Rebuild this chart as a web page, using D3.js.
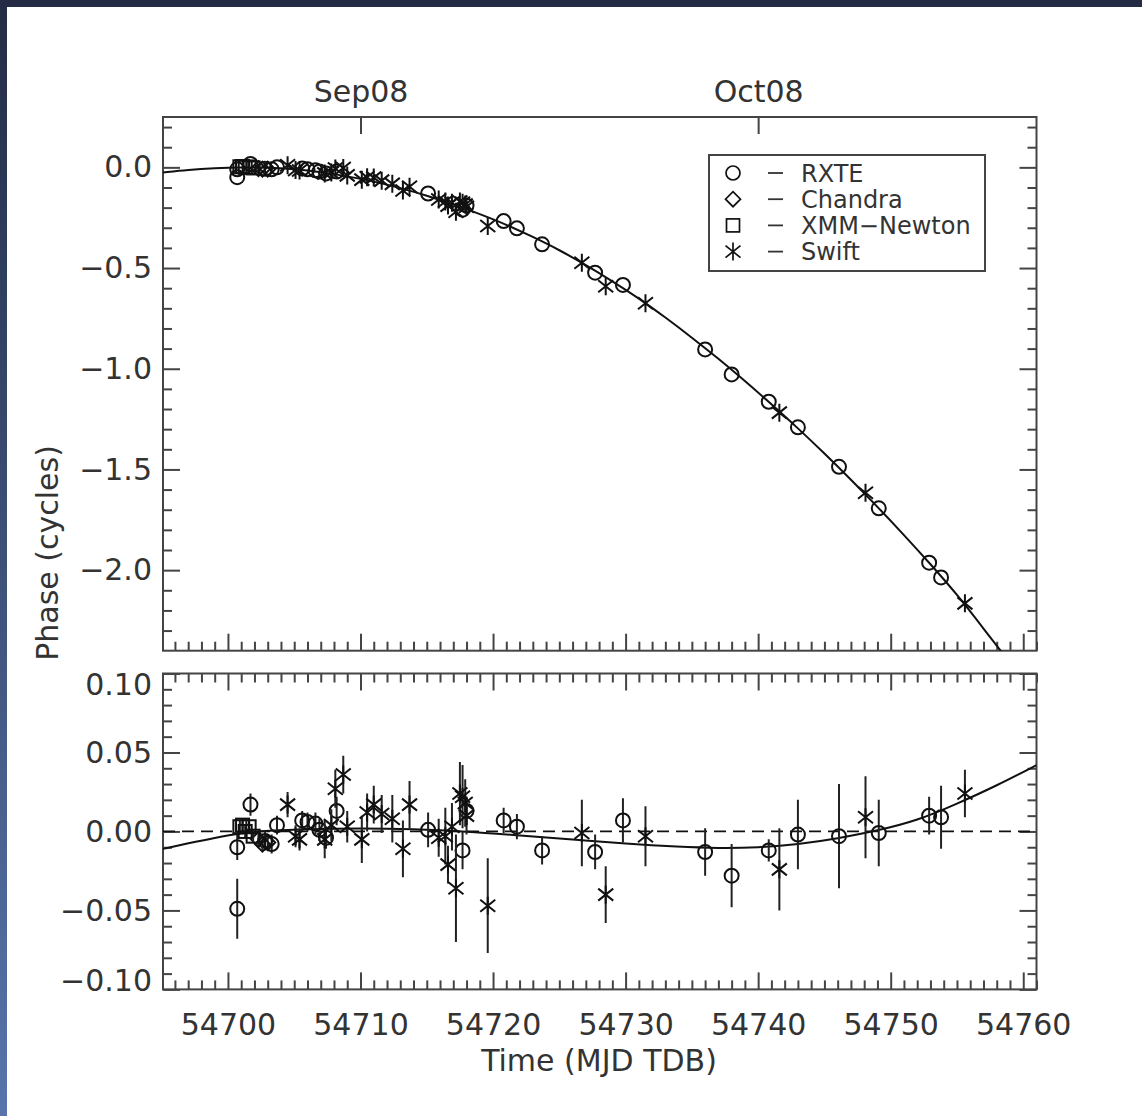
<!DOCTYPE html>
<html>
<head>
<meta charset="utf-8">
<script src="https://cdn.jsdelivr.net/npm/d3@7"></script>
<style>
  body { margin: 0; background: #fff; }
  text { font-family: "DejaVu Sans", sans-serif; fill: #333; }
</style>
</head>
<body>
<div id="chart"></div>
<script>
// observations: [MJD, phase (cycles), residual, residual error]
let rxte = [
    [54700.7, -0.049, -0.049, 0.019], [54700.7, -0.010, -0.010, 0.008],
    [54701.7, 0.017, 0.017, 0.007], [54702.8, -0.007, -0.006, 0.006],
    [54703.3, -0.010, -0.008, 0.006], [54703.7, 0.000, 0.004, 0.006],
    [54705.6, -0.006, 0.007, 0.006], [54706.0, -0.010, 0.006, 0.006],
    [54706.6, -0.015, 0.005, 0.007], [54706.9, -0.021, 0.001, 0.007],
    [54707.4, -0.030, -0.004, 0.007], [54708.2, -0.021, 0.013, 0.009],
    [54715.1, -0.130, 0.001, 0.011], [54717.7, -0.210, -0.012, 0.012],
    [54718.0, -0.190, 0.013, 0.009], [54720.8, -0.267, 0.007, 0.008],
    [54721.8, -0.303, 0.003, 0.008], [54723.7, -0.382, -0.012, 0.009],
    [54727.7, -0.523, -0.013, 0.011], [54729.8, -0.584, 0.007, 0.014],
    [54736.0, -0.904, -0.013, 0.015], [54738.0, -1.028, -0.028, 0.020],
    [54740.8, -1.164, -0.012, 0.007], [54743.0, -1.291, -0.002, 0.022],
    [54746.1, -1.487, -0.003, 0.033], [54749.1, -1.693, -0.001, 0.021],
    [54752.9, -1.963, 0.010, 0.012], [54753.8, -2.036, 0.009, 0.020]
];
let chandra = [
    [54702.3, -0.006, -0.005, 0.005], [54702.6, -0.009, -0.008, 0.005],
    [54703.0, -0.009, -0.007, 0.005]
];
let xmm = [
    [54700.9, 0.003, 0.003, 0.004], [54701.1, 0.004, 0.004, 0.004],
    [54701.3, 0.000, 0.000, 0.004], [54701.6, 0.002, 0.003, 0.004],
    [54701.9, -0.003, -0.003, 0.004]
];
let swift = [
    [54704.5, 0.010, 0.017, 0.008], [54705.1, -0.013, -0.003, 0.007],
    [54705.4, -0.016, -0.005, 0.007], [54707.3, -0.030, -0.005, 0.012],
    [54707.8, -0.026, 0.004, 0.010], [54708.1, -0.006, 0.027, 0.012],
    [54708.7, -0.003, 0.036, 0.012], [54709.0, -0.040, 0.003, 0.010],
    [54710.1, -0.061, -0.005, 0.015], [54710.5, -0.049, 0.012, 0.012],
    [54711.0, -0.051, 0.017, 0.012], [54711.6, -0.066, 0.011, 0.012],
    [54712.4, -0.082, 0.008, 0.015], [54713.2, -0.115, -0.011, 0.018],
    [54713.7, -0.096, 0.017, 0.015], [54715.9, -0.160, -0.004, 0.012],
    [54716.4, -0.170, -0.003, 0.018], [54716.6, -0.190, -0.021, 0.012],
    [54716.9, -0.176, 0.003, 0.015], [54717.2, -0.220, -0.036, 0.034],
    [54717.5, -0.170, 0.024, 0.020], [54717.7, -0.176, 0.022, 0.020],
    [54717.9, -0.185, 0.018, 0.015], [54718.0, -0.196, 0.010, 0.012],
    [54719.6, -0.291, -0.047, 0.030], [54726.7, -0.474, -0.001, 0.021],
    [54728.5, -0.590, -0.040, 0.018], [54731.5, -0.675, -0.003, 0.019],
    [54741.6, -1.218, -0.024, 0.026], [54748.1, -1.616, 0.009, 0.026],
    [54755.6, -2.165, 0.024, 0.015]
];

// timing model
let modelTime = [54695.1, 54697, 54699, 54701, 54703, 54705, 54707, 54709, 54711, 54713,
    54715, 54717, 54719, 54721, 54723, 54725, 54727, 54729, 54731, 54733, 54735, 54737,
    54739, 54741, 54743, 54745, 54747, 54749, 54751, 54753, 54755, 54757, 54759];
let modelPhase = [-0.025, -0.012, -0.004, 0.000, -0.001, -0.009, -0.023, -0.044, -0.070, -0.102,
    -0.140, -0.183, -0.232, -0.284, -0.345, -0.41, -0.485, -0.565, -0.65, -0.745, -0.845, -0.95,
    -1.06, -1.176, -1.295, -1.42, -1.55, -1.685, -1.825, -1.97, -2.12, -2.29, -2.46];
let residTime = [54695.1, 54697, 54699, 54701, 54703, 54706, 54710, 54714, 54718, 54722, 54726,
    54730, 54734, 54737, 54740, 54743, 54746, 54749, 54752, 54755, 54758, 54761];
let residModel = [-0.011, -0.0075, -0.004, -0.001, 0.0005, 0.0015, 0.002, 0.0015, 0.0, -0.0025, -0.005,
    -0.0078, -0.0098, -0.0106, -0.0102, -0.0082, -0.0045, 0.0005, 0.0068, 0.0175, 0.029, 0.042];

let monthMJD = [54710, 54740];
let monthLabels = ["Sep08", "Oct08"];
let legendNames = ["RXTE", "Chandra", "XMM\u2212Newton", "Swift"];

let W = 1142, H = 1116;
let left = 163, right = 1036.5;
let topY0 = 117, topY1 = 650.7, botY0 = 673.5, botY1 = 989.4;
let ink = "#444", markInk = "#111";

let svg = d3.select("#chart").append("svg")
    .attr("width", W)
    .attr("height", H);

// dark frame on top and left
let grad = svg.append("defs").append("linearGradient")
    .attr("id", "sidegrad").attr("x1", 0).attr("y1", 0).attr("x2", 0).attr("y2", 1);
grad.append("stop").attr("offset", "0%").attr("stop-color", "#232c44");
grad.append("stop").attr("offset", "100%").attr("stop-color", "#5775ab");
svg.append("rect").attr("x", 0).attr("y", 0).attr("width", 7).attr("height", H).attr("fill", "url(#sidegrad)");
svg.append("rect").attr("x", 0).attr("y", 0).attr("width", W).attr("height", 7).attr("fill", "#232c44");

let x = d3.scaleLinear().domain([54695.1, 54761.0]).range([left, right]);
let yTop = d3.scaleLinear().domain([-2.4, 0.25]).range([topY1, topY0]);
let yBot = d3.scaleLinear().domain([-0.1, 0.1]).range([botY1, botY0]);

let defs = svg.select("defs");
defs.append("clipPath").attr("id", "clipTop").append("rect")
    .attr("x", left).attr("y", topY0).attr("width", right - left).attr("height", topY1 - topY0);
defs.append("clipPath").attr("id", "clipBot").append("rect")
    .attr("x", left).attr("y", botY0).attr("width", right - left).attr("height", botY1 - botY0);

function styleAxis(g, size) {
    g.select(".domain").remove();
    g.selectAll(".tick line").attr("stroke", ink).attr("stroke-width", 2);
    g.selectAll(".tick text")
        .style("font-family", "'DejaVu Sans', sans-serif")
        .style("font-size", size + "px")
        .attr("fill", "#333");
}

let dayMinor = d3.range(54696, 54762).filter(d => d % 10 !== 0);
let dayMajor = [54700, 54710, 54720, 54730, 54740, 54750, 54760];

// negative tick sizes so every tick points into the panel
function xTicks(yPos, axisFn, labels) {
    let gMaj = svg.append("g").attr("transform", "translate(0," + yPos + ")")
        .call(axisFn(x).tickValues(dayMajor).tickSize(-17).tickPadding(24)
            .tickFormat(labels ? d3.format("d") : ""));
    styleAxis(gMaj, 30);
    let gMin = svg.append("g").attr("transform", "translate(0," + yPos + ")")
        .call(axisFn(x).tickValues(dayMinor).tickSize(-9).tickFormat(""));
    styleAxis(gMin, 30);
}

function yTicks(scale, major, minor, fmt) {
    let gL = svg.append("g").attr("transform", "translate(" + left + ",0)")
        .call(d3.axisLeft(scale).tickValues(major).tickSize(-17).tickPadding(11).tickFormat(fmt));
    styleAxis(gL, 30);
    svg.append("g").attr("transform", "translate(" + left + ",0)")
        .call(d3.axisLeft(scale).tickValues(minor).tickSize(-9).tickFormat(""))
        .call(g => styleAxis(g, 30));
    svg.append("g").attr("transform", "translate(" + right + ",0)")
        .call(d3.axisRight(scale).tickValues(major).tickSize(-17).tickFormat(""))
        .call(g => styleAxis(g, 30));
    svg.append("g").attr("transform", "translate(" + right + ",0)")
        .call(d3.axisRight(scale).tickValues(minor).tickSize(-9).tickFormat(""))
        .call(g => styleAxis(g, 30));
    return gL;
}

// ---- top panel axes
let topMajor = [0, -0.5, -1, -1.5, -2];
let topMinor = d3.range(-23, 3).map(d => d / 10).filter(d => Math.abs(d * 2 - Math.round(d * 2)) > 1e-6);
yTicks(yTop, topMajor, topMinor, d3.format(".1f"));
xTicks(topY1, d3.axisBottom, false);

let gMonth = svg.append("g").attr("transform", "translate(0," + topY0 + ")")
    .call(d3.axisTop(x).tickValues(monthMJD).tickSize(-17).tickPadding(15)
        .tickFormat((d, i) => monthLabels[i]));
styleAxis(gMonth, 30);

svg.append("rect").attr("x", left).attr("y", topY0)
    .attr("width", right - left).attr("height", topY1 - topY0)
    .attr("fill", "none").attr("stroke", ink).attr("stroke-width", 2);

// ---- bottom panel axes
let botMajor = [0.1, 0.05, 0, -0.05, -0.1];
let botMinor = d3.range(-9, 10).map(d => d / 100).filter(d => Math.round(d * 100) % 5 !== 0);
let gBotL = yTicks(yBot, botMajor, botMinor, d3.format(".2f"));
// edge labels sit inside the panel, as in the original
gBotL.selectAll(".tick text").attr("transform", d => d === 0.1 ? "translate(0,11)" : d === -0.1 ? "translate(0,-9)" : null);
xTicks(botY0, d3.axisTop, false);
xTicks(botY1, d3.axisBottom, true);

svg.append("rect").attr("x", left).attr("y", botY0)
    .attr("width", right - left).attr("height", botY1 - botY0)
    .attr("fill", "none").attr("stroke", ink).attr("stroke-width", 2);

// ---- markers
function drawMark(sel, kind) {
    if (kind === "circle") {
        sel.append("circle").attr("r", 7);
    } else if (kind === "diamond") {
        sel.append("path").attr("d", "M0,-7.5L7.5,0L0,7.5L-7.5,0Z");
    } else if (kind === "square") {
        sel.append("rect").attr("x", -6.5).attr("y", -6.5).attr("width", 13).attr("height", 13);
    } else {
        sel.append("path").attr("d", "M0,-9V9M-7.5,-6L7.5,6M-7.5,6L7.5,-6");
    }
}

let groups = [
    {name: "rxte", data: rxte, kind: "circle"},
    {name: "chandra", data: chandra, kind: "diamond"},
    {name: "xmm", data: xmm, kind: "square"},
    {name: "swift", data: swift, kind: "star"}
];

let topPlot = svg.append("g").attr("clip-path", "url(#clipTop)");
let botPlot = svg.append("g").attr("clip-path", "url(#clipBot)");

// top: model curve
topPlot.append("path")
    .datum(modelTime.map((t, i) => [t, modelPhase[i]]))
    .attr("fill", "none").attr("stroke", markInk).attr("stroke-width", 2)
    .attr("d", d3.line().x(d => x(d[0])).y(d => yTop(d[1])).curve(d3.curveBasis));

// bottom: zero line and model difference
botPlot.append("line")
    .attr("x1", left).attr("x2", right).attr("y1", yBot(0)).attr("y2", yBot(0))
    .attr("stroke", markInk).attr("stroke-width", 1.8).attr("stroke-dasharray", "12,7");
botPlot.append("path")
    .datum(residTime.map((t, i) => [t, residModel[i]]))
    .attr("fill", "none").attr("stroke", markInk).attr("stroke-width", 2)
    .attr("d", d3.line().x(d => x(d[0])).y(d => yBot(d[1])).curve(d3.curveBasis));

groups.forEach(function (grp) {
    // error bars
    botPlot.selectAll(".err-" + grp.name)
        .data(grp.data)
        .enter().append("line")
        .attr("class", "err-" + grp.name)
        .attr("x1", d => x(d[0])).attr("x2", d => x(d[0]))
        .attr("y1", d => yBot(d[2] - d[3])).attr("y2", d => yBot(d[2] + d[3]))
        .attr("stroke", "#222").attr("stroke-width", 2);

    let mb = botPlot.selectAll(".mb-" + grp.name)
        .data(grp.data)
        .enter().append("g")
        .attr("class", "mb-" + grp.name)
        .attr("transform", d => "translate(" + x(d[0]) + "," + yBot(d[2]) + ")")
        .attr("fill", "none").attr("stroke", markInk).attr("stroke-width", 2);
    drawMark(mb, grp.kind);

    let mt = topPlot.selectAll(".mt-" + grp.name)
        .data(grp.data)
        .enter().append("g")
        .attr("class", "mt-" + grp.name)
        .attr("transform", d => "translate(" + x(d[0]) + "," + yTop(d[1]) + ")")
        .attr("fill", "none").attr("stroke", markInk).attr("stroke-width", 2);
    drawMark(mt, grp.kind);
});

// ---- legend
let leg = svg.append("g");
leg.append("rect").attr("x", 709).attr("y", 155).attr("width", 276).attr("height", 116)
    .attr("fill", "#fff").attr("stroke", ink).attr("stroke-width", 2);
groups.forEach(function (grp, i) {
    let cy = 173 + i * 26.2;
    let s = leg.append("g").attr("transform", "translate(733," + cy + ")")
        .attr("fill", "none").attr("stroke", markInk).attr("stroke-width", 1.7);
    drawMark(s, grp.kind);
    leg.append("line").attr("x1", 768).attr("x2", 783).attr("y1", cy).attr("y2", cy)
        .attr("stroke", "#333").attr("stroke-width", 1.8);
    leg.append("text").attr("x", 801).attr("y", cy + 8.5)
        .style("font-size", "24px").text(legendNames[i]);
});

// ---- titles
svg.append("text")
    .attr("transform", "translate(47,553) rotate(-90)")
    .attr("text-anchor", "middle").attr("dy", "0.35em")
    .style("font-size", "30px")
    .text("Phase (cycles)");

svg.append("text")
    .attr("x", 599).attr("y", 1071)
    .attr("text-anchor", "middle")
    .style("font-size", "30px")
    .text("Time (MJD TDB)");
</script>
</body>
</html>
